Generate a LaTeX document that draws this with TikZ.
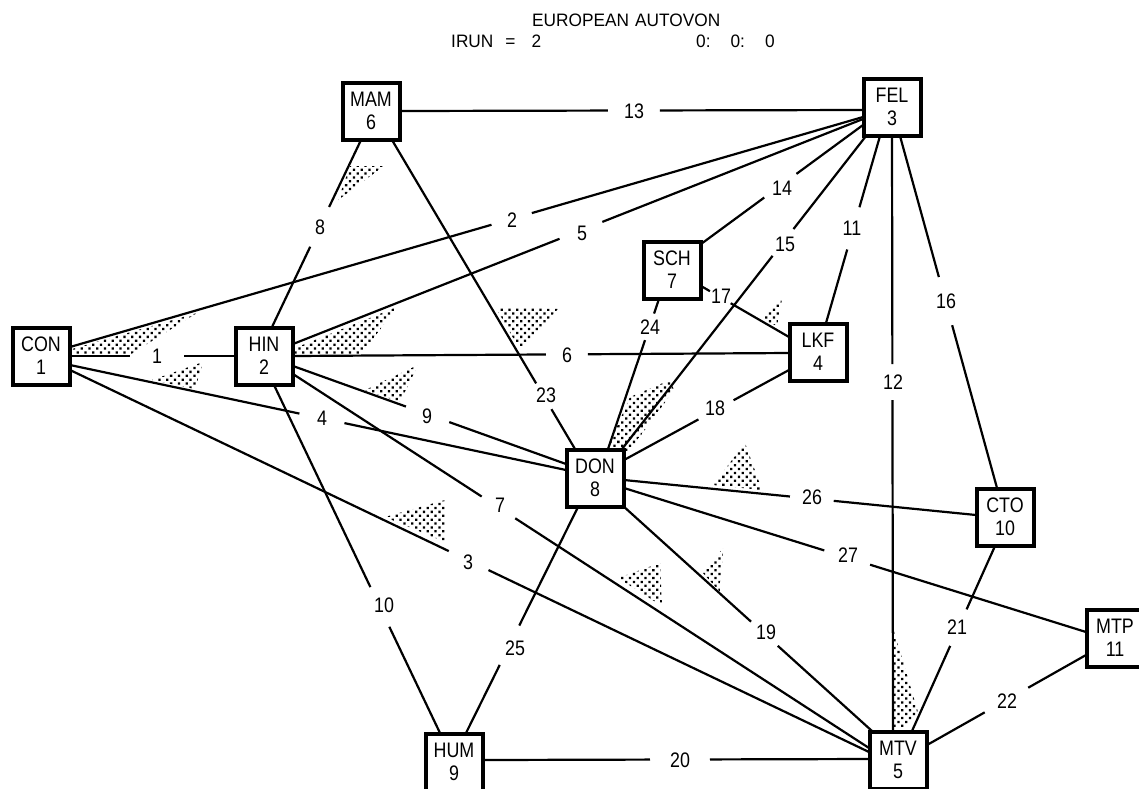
\documentclass[tikz,border=0pt]{standalone}
\usepackage{fontspec}
\newfontfamily\plotfont[FakeStretch=0.85]{Liberation Sans}
\newfontfamily\titlefont[FakeStretch=0.96]{Liberation Sans}
\usetikzlibrary{calc,patterns.meta}
\tikzset{
  site/.style={draw, line width=4pt, fill=white, minimum width=57pt, minimum height=57pt,
    inner sep=0pt, align=center, font=\plotfont\fontsize{21}{23}\selectfont},
  link/.style={line width=2.2pt},
  lab/.style={font=\plotfont\fontsize{21}{22}\selectfont, inner sep=0pt},
  ttl/.style={font=\titlefont\fontsize{18}{20}\selectfont, inner sep=0pt, anchor=west},
  stip/.style={pattern={Dots[radius=1.6pt,distance=5.5pt,angle=45]}, pattern color=black},
}
\newcommand\myedge[7][22pt]{%
  \coordinate (ea) at ($(#2)+(#3)$);
  \coordinate (eb) at ($(#4)+(#5)$);
  \coordinate (pp) at ($(ea)!(#6)!(eb)$);
  \draw[link] (ea) -- ($(pp)!#1!(ea)$);
  \draw[link] ($(pp)!#1!(eb)$) -- (eb);
  \node[lab] (L#7) at (#6) {#7};
}
\begin{document}
\begin{tikzpicture}[x=1pt,y=-1pt]
\useasboundingbox (0,0) rectangle (1139,788);
% node positions (drawn last)
\coordinate (CON) at (41,356);
\coordinate (HIN) at (264,356);
\coordinate (FEL) at (892,107);
\coordinate (LKF) at (818,352);
\coordinate (MTV) at (898,760);
\coordinate (MAM) at (371,111);
\coordinate (SCH) at (672,270);
\coordinate (DON) at (595,478);
\coordinate (HUM) at (454,762);
\coordinate (CTO) at (1005,517);
\coordinate (MTP) at (1115,638);
% title
\node[ttl] (t1) at (532,20) {EUROPEAN\hspace{6pt}AUTOVON};
\node[ttl] (t2) at (451,41) {IRUN\hspace{12pt}=\hspace{16pt}2};
\node[ttl] (t3) at (696,41) {0:\hspace{20pt}0:\hspace{20pt}0};
% stippled triangles
\fill[stip] (72,349) -- (197,313) -- (128,356) -- (72,356) -- cycle;
\fill[stip] (152,380) -- (203,362) -- (195,389) -- cycle;
\fill[stip] (295,348) -- (397,307) -- (360,356) -- (295,356) -- cycle;
\fill[stip] (365,390) -- (418,365) -- (400,402) -- cycle;
\fill[stip] (338,200) -- (350,166) -- (384,166) -- cycle;
\fill[stip] (496,308) -- (558,309) -- (520,350) -- cycle;
\fill[stip] (608,447) -- (630,397) -- (670,380) -- (674,390) -- (625,457) -- cycle;
\fill[stip] (760,318) -- (782,299) -- (777,326) -- cycle;
\fill[stip] (713,485) -- (745,443) -- (762,490) -- cycle;
\fill[stip] (385,517) -- (445,500) -- (445,542) -- cycle;
\fill[stip] (618,578) -- (660,563) -- (662,606) -- cycle;
\fill[stip] (703,573) -- (723,548) -- (720,592) -- cycle;
\fill[stip] (893,628) -- (918,712) -- (906,728) -- (893,728) -- cycle;
% links
\myedge[27pt]{CON}{29,0}{HIN}{-29,0}{157,356}{1}
\myedge[21pt]{CON}{29,-9}{FEL}{-29,10}{512,220}{2}
\myedge{CON}{29,14}{MTV}{-29,-8}{468,562}{3}
\myedge[23pt]{CON}{29,9}{DON}{-29,-8}{322,418}{4}
\myedge[23pt]{HIN}{29,-12}{FEL}{-29,12}{582,233}{5}
\myedge[21pt]{HIN}{29,0}{LKF}{-29,1}{567,355}{6}
\myedge[20pt]{HIN}{29,18}{MTV}{-29,-12}{500,505}{7}
\myedge{HIN}{8,-29}{MAM}{-10,29}{320,227}{8}
\myedge[23pt]{HIN}{29,10}{DON}{-29,-14}{427,416}{9}
\myedge{HIN}{10,29}{HUM}{-14,-29}{384,605}{10}
\myedge{FEL}{-12,29}{LKF}{8,-29}{852,228}{11}
\myedge[18pt]{FEL}{0,29}{MTV}{-5,-29}{893,382}{12}
\myedge[26pt]{MAM}{29,0}{FEL}{-29,3}{634,111}{13}
\myedge[20pt]{FEL}{-29,18}{SCH}{29,-26}{782,188}{14}
\myedge[17pt]{FEL}{-26,29}{DON}{27,-29}{785,244}{15}
\myedge[25pt]{FEL}{8,29}{CTO}{-8,-29}{946,301}{16}
\myedge[12pt]{SCH}{29,16}{LKF}{-29,-15}{721,296}{17}
\myedge[20pt]{DON}{29,-18}{LKF}{-29,18}{715,408}{18}
\myedge[18pt]{DON}{27,27}{MTV}{-26,-29}{766,632}{19}
\myedge[30pt]{HUM}{29,-2}{MTV}{-29,-1}{680,760}{20}
\myedge[20pt]{CTO}{-10,29}{MTV}{14,-29}{957,627}{21}
\myedge[25pt]{MTP}{-29,17}{MTV}{29,-15}{1007,701}{22}
\myedge[15pt]{MAM}{21,29}{DON}{-20,-29}{546,395}{23}
\myedge[14pt]{SCH}{-13,29}{DON}{13,-29}{650,327}{24}
\myedge{DON}{-17,29}{HUM}{12,-29}{515,648}{25}
\myedge[22pt]{DON}{29,2}{CTO}{-29,-2}{812,497}{26}
\myedge[24pt]{DON}{29,10}{MTP}{-29,-6}{848,555}{27}
% sites
\node[site] (n1) at (CON) {CON\\1};
\node[site] (n2) at (HIN) {HIN\\2};
\node[site] (n3) at (FEL) {FEL\\3};
\node[site] (n4) at (LKF) {LKF\\4};
\node[site] (n5) at (MTV) {MTV\\5};
\node[site] (n6) at (MAM) {MAM\\6};
\node[site] (n7) at (SCH) {SCH\\7};
\node[site] (n8) at (DON) {DON\\8};
\node[site] (n9) at (HUM) {HUM\\9};
\node[site] (n10) at (CTO) {CTO\\10};
\node[site] (n11) at (MTP) {MTP\\11};
\end{tikzpicture}
\end{document}
